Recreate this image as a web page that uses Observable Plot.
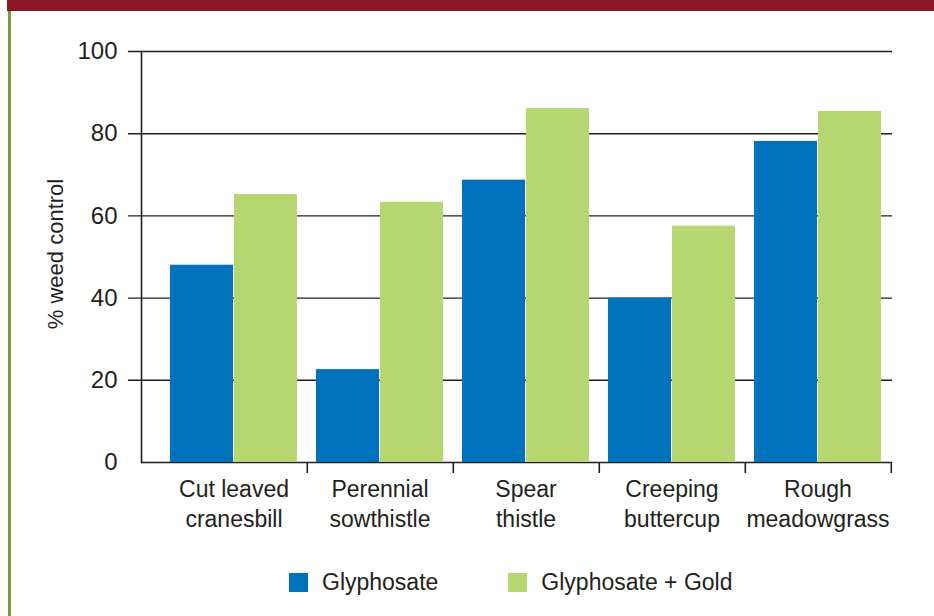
<!DOCTYPE html>
<html>
<head>
<meta charset="utf-8">
<script src="https://cdn.jsdelivr.net/npm/d3@7"></script>
<script src="https://cdn.jsdelivr.net/npm/@observablehq/plot@0.6"></script>
<style>
  html, body { margin: 0; padding: 0; background: #fff; }
  #page { position: relative; width: 934px; height: 616px; overflow: hidden; font-family: "Liberation Sans", Arial, Helvetica, sans-serif; color: #231f20; }
  #band { position: absolute; left: 7px; top: 0; width: 927px; height: 11px; background: #8b1522; }
  #rail { position: absolute; left: 8px; top: 11px; width: 3px; height: 605px; background: #7b9a3c; }
  #chart { position: absolute; left: 0; top: 0; }
  #key { position: absolute; top: 569px; left: 289px; display: flex; align-items: center; font-size: 23px; }
  #key .item { display: flex; align-items: center; }
  #key .sw { width: 19px; height: 19px; margin-right: 14px; }
</style>
</head>
<body>
<div id="page">
  <div id="band"></div>
  <div id="rail"></div>
  <div id="chart"></div>
  <div id="key"></div>
</div>
<script>
// Weed species (two-line labels) and the two treatments
const categories = ["Cut leaved\ncranesbill", "Perennial\nsowthistle", "Spear\nthistle", "Creeping\nbuttercup", "Rough\nmeadowgrass"];
const series = ["Glyphosate", "Glyphosate + Gold"];
const colors = ["#0071bb", "#b6d671"];

// % weed control per species
const glyphosate = [48, 22.6, 68.7, 40, 78.1];
const glyphosateGold = [65.2, 63.3, 86.1, 57.5, 85.4];

const yTicks = [0, 20, 40, 60, 80, 100];

const rows = categories.flatMap((c, i) => [
  {category: c, series: series[0], value: glyphosate[i]},
  {category: c, series: series[1], value: glyphosateGold[i]}
]);

const W = 934, H = 540;
const mL = 159, mR = 42, mT = 51, mB = 78;
const padIn = 0.127, padOut = 0.0635;
const step = (W - mL - mR) / (categories.length - padIn + 2 * padOut);
const half = step * (1 - padIn) / 2;
const ink = "#231f20";

const plot = Plot.plot({
  width: W,
  height: H,
  marginLeft: mL,
  marginRight: mR,
  marginTop: mT,
  marginBottom: mB,
  style: {fontFamily: "'Liberation Sans', Arial, Helvetica, sans-serif", color: ink, background: "transparent"},
  x: {domain: categories, paddingInner: padIn, paddingOuter: padOut, label: null},
  y: {domain: [0, 100], label: null},
  color: {domain: series, range: colors},
  marks: [
    // gridlines (extend left to form the tick marks)
    Plot.ruleY(yTicks.filter(t => t > 0), {y: d => d, insetLeft: -31, stroke: ink, strokeWidth: 1.4}),
    Plot.ruleY([0], {y: d => d, insetLeft: -18, stroke: ink, strokeWidth: 1.4}),
    // bars, side by side within each species band
    Plot.barY(rows.filter(d => d.series === series[0]), {x: "category", y: "value", fill: "series", insetRight: half}),
    Plot.barY(rows.filter(d => d.series === series[1]), {x: "category", y: "value", fill: "series", insetLeft: half}),
    // vertical axis line
    Plot.frame({anchor: "left", dx: -18, stroke: ink, strokeWidth: 1.6}),
    Plot.axisY(yTicks, {tickSize: 0, tickPadding: 42, fontSize: 24, fill: ink, label: null}),
    Plot.text(["% weed control"], {frameAnchor: "left", textAnchor: "middle", dx: -104, dy: -3, rotate: -90, fontSize: 22, fill: ink}),
    // separator ticks between species
    Plot.axisX({tickSize: 11, tickFormat: () => "", dx: step / 2, stroke: ink, strokeWidth: 1.6, label: null}),
    Plot.axisX({tickSize: 0, tickPadding: 13, fontSize: 23, lineHeight: 1.3, fill: ink, label: null})
  ]
});

document.getElementById("chart").append(plot);

// legend
const key = d3.select("#key");
series.forEach((s, i) => {
  const item = key.append("div").attr("class", "item").style("margin-right", i === 0 ? "70px" : "0");
  item.append("div").attr("class", "sw").style("background", colors[i]);
  item.append("span").text(s);
});
</script>
</body>
</html>
